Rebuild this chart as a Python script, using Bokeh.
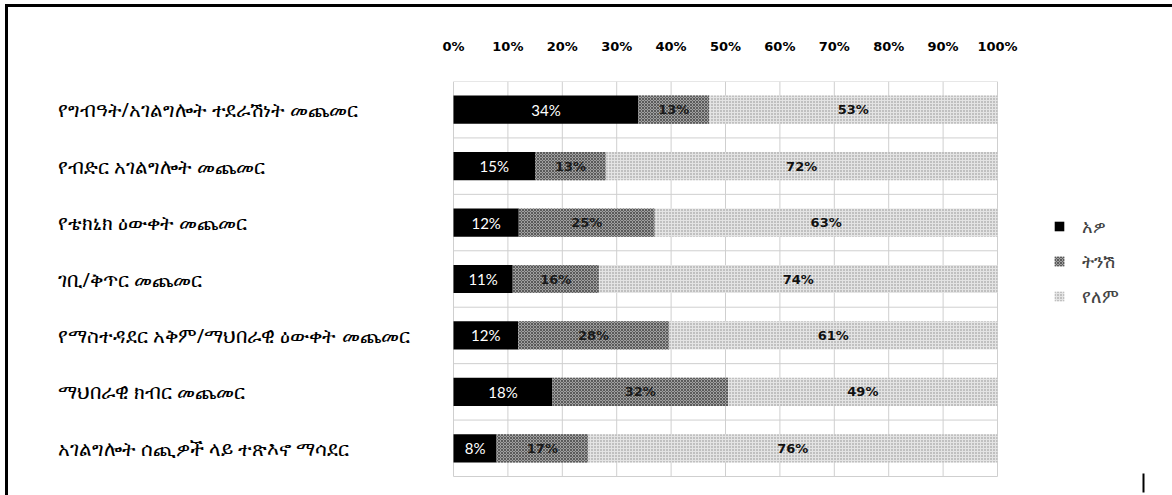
from bokeh.plotting import figure
from bokeh.models import ColumnDataSource, Range1d, FixedTicker, Legend, LegendItem
from bokeh.core.properties import value
from bokeh.embed import file_html
from bokeh.resources import INLINE

categories = [
    "የግብዓት/አገልግሎት ተደራሽነት  መጨመር",
    "የብድር አገልግሎት መጨመር",
    "የቴክኒክ ዕውቀት መጨመር",
    "ገቢ/ቅጥር መጨመር",
    "የማስተዳደር አቅም/ማህበራዊ ዕውቀት መጨመር",
    "ማህበራዊ ክብር መጨመር",
    "አገልግሎት ሰጪዎች ላይ ተጽእኖ ማሳደር",
]
yes_vals = [34, 15, 12, 11, 12, 18, 8]
little_vals = [13, 13, 25, 16, 28, 32, 17]
no_vals = [53, 72, 63, 74, 61, 49, 76]
series_names = ["አዎ", "ትንሽ", "የለም"]
x_ticks = [0, 10, 20, 30, 40, 50, 60, 70, 80, 90, 100]

n = len(categories)

# ---- page-pixel layout ----
CX, CY = 8, 7                  # canvas origin on the page
PAGE_W, PAGE_H = 1172, 495
X0, X100 = 453, 997            # page x of 0% and 100%
Y_TOP, Y_BOT = 81, 476         # page y of top / bottom row boundaries
sx = (X100 - X0) / 100.0
sy = (Y_BOT - Y_TOP) / n

def dx(px):
    return (px - X0) / sx

def dy(py):
    return (Y_BOT - py) / sy

# 100% stacked: normalise each row
y_pos, a_r, b_l, b_r, c_l, c_r = [], [], [], [], [], []
a_mid, b_mid, c_mid = [], [], []
for i in range(n):
    tot = yes_vals[i] + little_vals[i] + no_vals[i]
    a = yes_vals[i] * 100.0 / tot
    b = little_vals[i] * 100.0 / tot
    y_pos.append(n - i - 0.5)
    a_r.append(a)
    b_l.append(a)
    b_r.append(a + b)
    c_l.append(a + b)
    c_r.append(100.0)
    a_mid.append(a / 2)
    b_mid.append(a + b / 2)
    c_mid.append(a + b + (100 - a - b) / 2)

src = ColumnDataSource(dict(
    y=y_pos, zero=[0] * n, a_r=a_r, b_l=b_l, b_r=b_r, c_l=c_l, c_r=c_r,
    a_mid=a_mid, b_mid=b_mid, c_mid=c_mid,
    a_txt=[f"{v}%" for v in yes_vals],
    b_txt=[f"{v}%" for v in little_vals],
    c_txt=[f"{v}%" for v in no_vals],
    cat=categories,
    cat_x=[dx(57)] * n,
))

frame_w = PAGE_W - CX
frame_h = PAGE_H - Y_TOP
p = figure(
    frame_width=frame_w, frame_height=frame_h,
    min_border_left=0, min_border_right=0, min_border_top=Y_TOP - CY, min_border_bottom=0,
    x_range=Range1d(dx(CX), dx(PAGE_W)), y_range=Range1d(dy(PAGE_H), dy(Y_TOP)),
    x_axis_location="above",
    output_backend="svg", toolbar_location=None,
    background_fill_color="white", border_fill_color="white",
    styles={"margin-left": "5px", "margin-top": "4px",
            "border-top": "3px solid black", "border-left": "3px solid black"},
)
p.outline_line_color = None
p.grid.visible = False
p.yaxis.visible = False

# grid lines limited to the chart area
p.segment(x0=x_ticks, x1=x_ticks, y0=[0] * len(x_ticks), y1=[n] * len(x_ticks),
          line_color="#cfcfcf", line_width=1)
p.segment(x0=[0] * (n + 1), x1=[100] * (n + 1), y0=list(range(n + 1)), y1=list(range(n + 1)),
          line_color="#cfcfcf", line_width=1)

r1 = p.hbar(y="y", left="zero", right="a_r", height=0.5, source=src,
            fill_color="black", line_color=None)
r2 = p.hbar(y="y", left="b_l", right="b_r", height=0.5, source=src,
            fill_color="#a0a0a0", line_color=None,
            hatch_pattern="diagonal_cross", hatch_color="#5a5a5a", hatch_scale=3, hatch_weight=1)
r3 = p.hbar(y="y", left="c_l", right="c_r", height=0.5, source=src,
            fill_color="#e4e4e4", line_color=None,
            hatch_pattern="dot", hatch_color="#8a8a8a", hatch_scale=3, hatch_weight=1)

p.text(x="a_mid", y="y", text="a_txt", source=src, text_color="white",
       text_font=value("Lato"), text_font_size="15px", text_align="center", text_baseline="middle")
p.text(x="b_mid", y="y", text="b_txt", source=src, text_color="#1a1a1a",
       text_font=value("DejaVu Sans"), text_font_style="bold", text_font_size="13px",
       text_align="center", text_baseline="middle")
p.text(x="c_mid", y="y", text="c_txt", source=src, text_color="#111111",
       text_font=value("DejaVu Sans"), text_font_style="bold", text_font_size="13px",
       text_align="center", text_baseline="middle")

# category labels (left aligned)
p.text(x="cat_x", y="y", text="cat", source=src, text_font=value("Noto Sans"),
       text_font_size="20px", text_color="black", text_baseline="middle", text_align="left")

# small vertical mark at the bottom right of the page
p.segment(x0=[dx(1143)], x1=[dx(1143)], y0=[dy(473)], y1=[dy(492)], line_color="black", line_width=2)

# top axis
p.xaxis.ticker = FixedTicker(ticks=x_ticks)
p.xaxis.major_label_overrides = {t: f"{t}%" for t in x_ticks}
p.xaxis.major_label_text_font = "DejaVu Sans"
p.xaxis.major_label_text_font_style = "bold"
p.xaxis.major_label_text_font_size = "13px"
p.xaxis.major_label_text_color = "black"
p.xaxis.axis_line_color = None
p.xaxis.major_tick_line_color = None
p.xaxis.minor_tick_line_color = None
p.xaxis.major_label_standoff = 22

legend = Legend(items=[LegendItem(label=series_names[0], renderers=[r1]),
                       LegendItem(label=series_names[1], renderers=[r2]),
                       LegendItem(label=series_names[2], renderers=[r3])],
                location=(1053 - CX, 187), orientation="vertical")
legend.background_fill_alpha = 0
legend.border_line_color = None
legend.padding = 0
legend.margin = 0
legend.spacing = 11
legend.glyph_width = 12
legend.glyph_height = 12
legend.label_height = 22
legend.label_standoff = 17
legend.label_text_font = "Noto Sans"
legend.label_text_font_size = "18px"
p.add_layout(legend)

open("out.html", "w").write(file_html(p, INLINE))
